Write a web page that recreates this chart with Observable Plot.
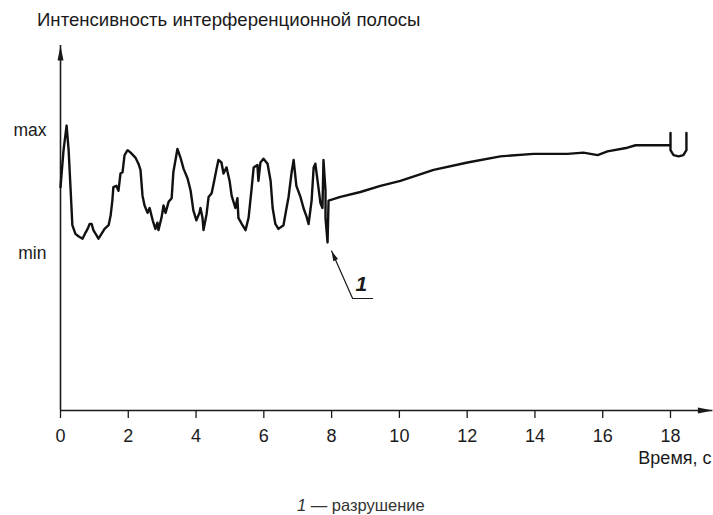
<!DOCTYPE html>
<html><head><meta charset="utf-8">
<script src="https://cdn.jsdelivr.net/npm/d3@7"></script>
<script src="https://cdn.jsdelivr.net/npm/@observablehq/plot@0.6"></script>
<style>
body{margin:0;background:#fff;font-family:"Liberation Sans",Arial,sans-serif;color:#1a1a1a;}
#title{height:38px;line-height:40px;padding-left:37px;font-size:18.6px;white-space:nowrap;box-sizing:border-box;}
#caption{height:37px;padding-left:297px;padding-top:19px;font-size:16.5px;line-height:17px;box-sizing:border-box;white-space:nowrap;color:#333;overflow:visible;}
#chart svg{overflow:visible;display:block;}
</style></head><body>
<div id="title">Интенсивность интерференционной полосы</div>
<div id="chart"></div>
<div id="caption"><i>1</i> — разрушение</div>
<script>
// time, s
const time = [0,0.09,0.18,0.24,0.30,0.35,0.44,0.53,0.65,0.74,0.80,0.86,0.92,0.97,1.06,1.12,1.21,1.30,1.42,1.48,1.53,1.56,1.65,1.71,1.77,1.83,1.89,1.98,2.07,2.21,2.30,2.36,2.42,2.48,2.57,2.63,2.72,2.80,2.86,2.89,2.98,3.04,3.10,3.19,3.28,3.33,3.45,3.54,3.63,3.75,3.84,3.92,4.01,4.10,4.13,4.19,4.22,4.31,4.37,4.46,4.52,4.60,4.66,4.75,4.81,4.90,4.99,5.05,5.16,5.22,5.25,5.37,5.46,5.55,5.64,5.70,5.81,5.84,5.90,5.99,6.11,6.20,6.26,6.34,6.43,6.58,6.67,6.73,6.82,6.88,6.96,7.08,7.17,7.26,7.32,7.41,7.47,7.52,7.61,7.67,7.73,7.76,7.82,7.82,7.88,7.91,8.26,8.85,9.44,10.03,11.01,12.01,12.98,13.96,14.96,15.43,15.85,16.14,16.73,16.97,17.94,18.0,18.0,18.0,18.09,18.24,18.38,18.47,18.47];
// intensity: 0 = min, 1 = max
const intensity = [0.54,0.84,1.04,0.84,0.51,0.23,0.16,0.14,0.12,0.17,0.20,0.24,0.24,0.19,0.15,0.12,0.16,0.20,0.23,0.31,0.43,0.54,0.55,0.51,0.65,0.66,0.80,0.84,0.82,0.78,0.73,0.68,0.47,0.39,0.33,0.37,0.27,0.20,0.25,0.19,0.29,0.39,0.33,0.42,0.45,0.66,0.85,0.78,0.69,0.61,0.51,0.35,0.27,0.33,0.37,0.29,0.19,0.32,0.46,0.49,0.57,0.68,0.76,0.74,0.65,0.70,0.59,0.47,0.37,0.45,0.29,0.23,0.19,0.29,0.53,0.70,0.72,0.59,0.74,0.77,0.73,0.59,0.37,0.24,0.20,0.23,0.37,0.46,0.66,0.76,0.55,0.46,0.37,0.30,0.24,0.43,0.70,0.73,0.54,0.41,0.37,0.76,0.51,0.29,0.09,0.43,0.46,0.50,0.55,0.59,0.68,0.74,0.79,0.81,0.81,0.82,0.80,0.83,0.86,0.88,0.88,0.88,0.98,0.84,0.80,0.79,0.80,0.84,0.98];
const xTicks = [0,2,4,6,8,10,12,14,16,18];
const yTicks = [0,1];
const yTickLabels = ["min","max"];
const xLabel = "Время, с";
// annotation "1" (failure point): leader polyline in data units
const annotT = [9.21,8.62,8.0];
const annotI = [-0.366,-0.366,0.02];
const annotLabel = "1";
const annotLabelPos = [8.88,-0.25];

const series = time.map((t,k)=>({t, i:intensity[k]}));
const annot = annotT.map((t,k)=>({t, i:annotI[k]}));

const yDomain = [-1.2764, 1.691];
const xArrowEnd = 19.25;
const xLabelPos = [19.21, -1.667];

const arrowBig = {draw(ctx){ctx.moveTo(0,0);ctx.lineTo(3,15);ctx.lineTo(-3,15);ctx.closePath();}};
const arrowSmall = {draw(ctx){ctx.moveTo(0,0);ctx.lineTo(2.6,10);ctx.lineTo(-2.6,10);ctx.closePath();}};

const chart = Plot.plot({
  width:713, height:440,
  marginLeft:60, marginRight:43, marginTop:7, marginBottom:68,
  x:{domain:[0,18]},
  y:{domain:yDomain},
  style:{fontFamily:'"Liberation Sans",Arial,sans-serif', fontSize:"17px", color:"#1a1a1a", background:"#fff"},
  marks:[
    Plot.axisX({ticks:xTicks, tickSize:8, tickPadding:11, fontSize:18, label:null, strokeWidth:1.3}),
    Plot.axisY({ticks:yTicks, tickFormat:d=>yTickLabels[yTicks.indexOf(d)], tickSize:0, tickPadding:14, fontSize:17.5, label:null}),
    Plot.ruleY([yDomain[0]], {x1:0, x2:xArrowEnd, stroke:"#1a1a1a", strokeWidth:1.6}),
    Plot.ruleX([0], {y1:yDomain[0], y2:yDomain[1], stroke:"#1a1a1a", strokeWidth:1.6}),
    Plot.dot([[0, yDomain[1]]], {x:d=>d[0], y:d=>d[1], symbol:arrowBig, fill:"#1a1a1a", stroke:null, r:5}),
    Plot.dot([[xArrowEnd, yDomain[0]]], {x:d=>d[0], y:d=>d[1], symbol:arrowBig, fill:"#1a1a1a", stroke:null, r:5, rotate:90}),
    Plot.text([xLabel], {x:xLabelPos[0], y:xLabelPos[1], text:d=>d, textAnchor:"end", fontSize:18}),
    Plot.line(series, {x:"t", y:"i", stroke:"#111", strokeWidth:2.4, strokeLinejoin:"round"}),
    Plot.line(annot, {x:"t", y:"i", stroke:"#1a1a1a", strokeWidth:1.2}),
    Plot.dot([annot[annot.length-1]], {x:"t", y:"i", symbol:arrowSmall, fill:"#1a1a1a", stroke:null, r:4, rotate:-24}),
    Plot.text([annotLabel], {x:annotLabelPos[0], y:annotLabelPos[1], text:d=>d, fontSize:21, fontStyle:"italic", fontWeight:"bold"})
  ]
});
document.getElementById("chart").appendChild(chart);
</script>
</body></html>
